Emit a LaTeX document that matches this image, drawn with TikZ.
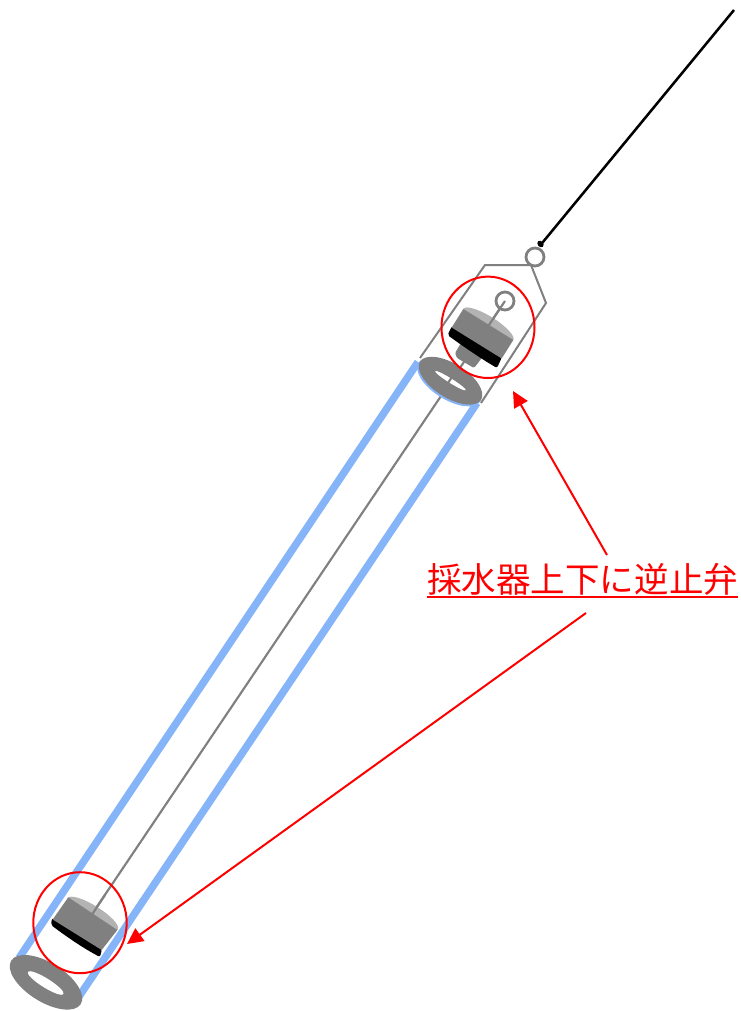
\documentclass[tikz,border=0pt]{standalone}
\usepackage{fontspec}
\newfontfamily\cjk{Noto Sans CJK JP}
\usetikzlibrary{arrows.meta}
\definecolor{tube}{HTML}{85B4F8}
\definecolor{part}{HTML}{808080}
\definecolor{partlight}{HTML}{B3B3B3}
\tikzset{
  tubewall/.style={draw=tube,line width=5.6pt},
  wire/.style={draw=part,line width=1.6pt},
  frame/.style={draw=part,line width=1.5pt,line join=miter},
  ring/.style={draw=part,fill=white,line width=2.1pt,circle,minimum size=13.5pt,inner sep=0pt},
  redline/.style={draw=red,line width=1.5pt},
  redarrow/.style={redline,-{Triangle[length=12pt,width=11.5pt]}},
  callout/.style={text=red,inner sep=0pt,font=\cjk\fontsize{25.9pt}{30pt}\selectfont}
}
\begin{document}
\begin{tikzpicture}[x=0.75pt,y=-0.75pt]
\useasboundingbox[fill=white] (0,0) rectangle (740,1011);
% tube
\draw[tubewall] (418,362) -- (19,958);
\draw[tubewall] (477,403) -- (76,1001);
% central rod
\draw[wire] (505,301) -- (90,917);
% guide frame
\draw[frame] (420,358) -- (485,265) -- (535,265);
\draw[frame] (531,265) -- (546,303) -- (481,403);
% top ring + wire
\draw[black,line width=1.9pt] (734,10) -- (540.5,245);
\fill[black] (540.5,244) ellipse [x radius=2.8,y radius=3.6,rotate=40];
\node[ring] (topring) at (535,257) {};
\node[ring] (rodring) at (505,301) {};
% top seal ring
\fill[tube] (449.5,382) ellipse [x radius=36.5,y radius=17.5,rotate=-32];
\fill[part] (450.5,380.7) ellipse [x radius=36,y radius=17,rotate=-32];
\fill[white] (450.5,380.7) ellipse [x radius=18,y radius=2.2,rotate=-32];
\draw[wire] (456,371) -- (444,389);
% top valve stub
\fill[part,rounded corners=1pt] (461,343) -- (455,353) -- (457,358) -- (474,368) -- (478,363) -- (484,355) -- cycle;
% top valve
\fill[partlight] (488.3,324.5) ellipse [x radius=29.5,y radius=8,rotate=-32];
\fill[black,rounded corners=1.5pt] (452,326) -- (502,357) -- (497,368) .. controls (480,358) and (464,347) .. (447.5,335) -- cycle;
\fill[part] (463.3,309) -- (513.3,340) -- (501.7,358.5) -- (451.7,327.5) -- cycle;
\draw[wire] (505,301) -- (487,328);
% bottom seal ring
\fill[part] (46,982.3) ellipse [x radius=41,y radius=19.5,rotate=-32];
\fill[white] (45.7,983) ellipse [x radius=21,y radius=4.6,rotate=-32];
% bottom valve
\fill[partlight] (92.8,913.7) ellipse [x radius=29.5,y radius=8,rotate=-32];
\fill[black,rounded corners=1.5pt] (52,918) -- (102,949) -- (100,957) .. controls (83,948) and (67,937) .. (51,925) -- cycle;
\fill[part] (68.3,897.3) -- (117.3,930) -- (101.7,950) -- (52.7,919.5) -- cycle;
\draw[wire] (105,895) -- (91,916);
% red circles
\draw[redline] (488,327.3) ellipse [x radius=46.5,y radius=50.7];
\draw[redline] (80,922.7) ellipse [x radius=46.7,y radius=50.5];
% label
\node[callout,anchor=base west] (label) at (427,592) {採水器上下に逆止弁};
\coordinate (ulL) at (427,597);
\coordinate (ulR) at (738,597);
\draw[redline] (ulL) -- (ulR);
\coordinate (a1s) at (607,555);
\coordinate (a1e) at (513,391);
\coordinate (a2s) at (586,613);
\coordinate (a2e) at (127,944);
\draw[redarrow] (a1s) -- (a1e);
\draw[redarrow] (a2s) -- (a2e);
\end{tikzpicture}
\end{document}
